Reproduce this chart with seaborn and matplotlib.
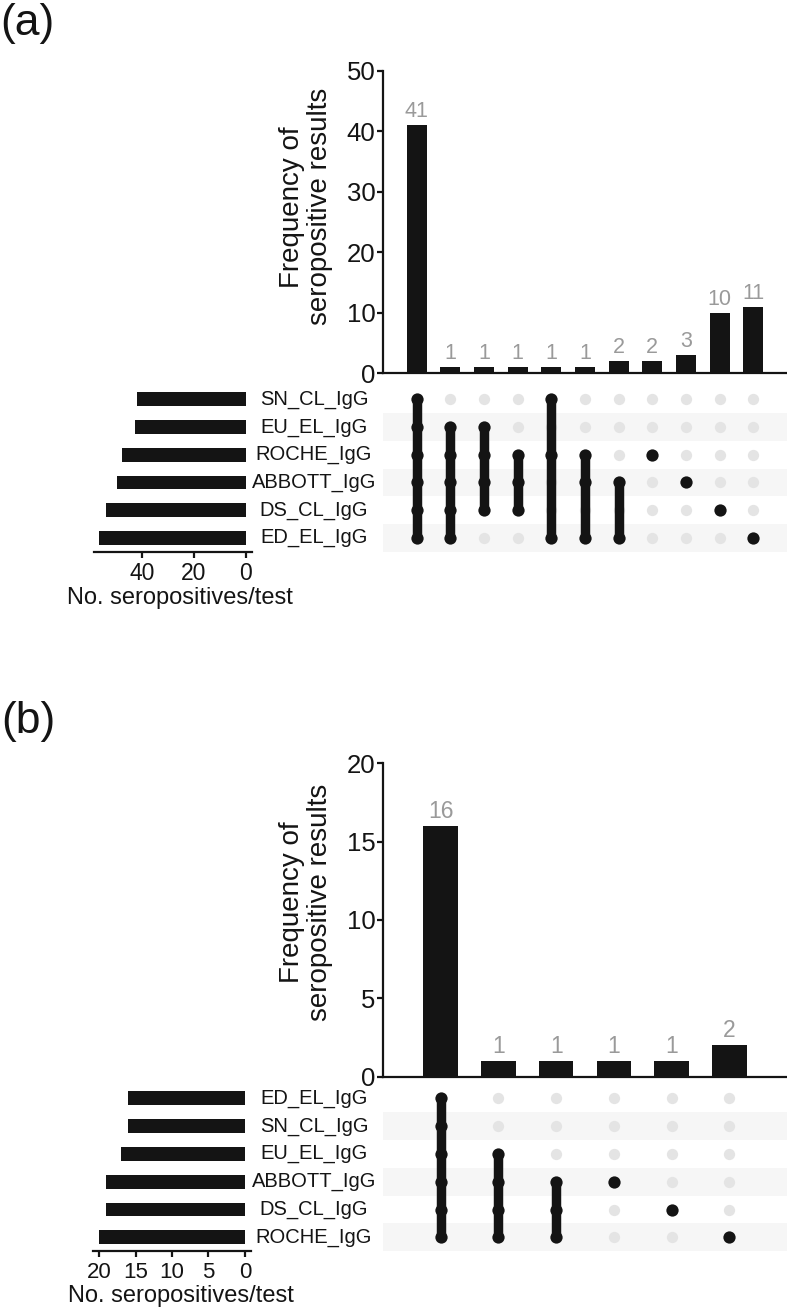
import numpy as np
import pandas as pd
import matplotlib
matplotlib.use("Agg")
import matplotlib.pyplot as plt
import matplotlib.transforms as mtrans
import seaborn as sns

# ---------------- data: panel (a) ----------------
a_sets = ["SN_CL_IgG", "EU_EL_IgG", "ROCHE_IgG", "ABBOTT_IgG", "DS_CL_IgG", "ED_EL_IgG"]
a_set_sizes = [42, 43, 48, 50, 54, 57]
a_freq = [41, 1, 1, 1, 1, 1, 2, 2, 3, 10, 11]
a_members = [
    ["SN_CL_IgG", "EU_EL_IgG", "ROCHE_IgG", "ABBOTT_IgG", "DS_CL_IgG", "ED_EL_IgG"],
    ["EU_EL_IgG", "ROCHE_IgG", "ABBOTT_IgG", "DS_CL_IgG", "ED_EL_IgG"],
    ["EU_EL_IgG", "ROCHE_IgG", "ABBOTT_IgG", "DS_CL_IgG"],
    ["ROCHE_IgG", "ABBOTT_IgG", "DS_CL_IgG"],
    ["SN_CL_IgG", "ROCHE_IgG", "ED_EL_IgG"],
    ["ROCHE_IgG", "ABBOTT_IgG", "ED_EL_IgG"],
    ["ABBOTT_IgG", "ED_EL_IgG"],
    ["ROCHE_IgG"],
    ["ABBOTT_IgG"],
    ["DS_CL_IgG"],
    ["ED_EL_IgG"],
]
a_freq_ticks = [0, 10, 20, 30, 40, 50]
a_size_ticks = [0, 20, 40]

# ---------------- data: panel (b) ----------------
b_sets = ["ED_EL_IgG", "SN_CL_IgG", "EU_EL_IgG", "ABBOTT_IgG", "DS_CL_IgG", "ROCHE_IgG"]
b_set_sizes = [16, 16, 17, 19, 19, 20]
b_freq = [16, 1, 1, 1, 1, 2]
b_members = [
    ["ED_EL_IgG", "SN_CL_IgG", "EU_EL_IgG", "ABBOTT_IgG", "DS_CL_IgG", "ROCHE_IgG"],
    ["EU_EL_IgG", "ABBOTT_IgG", "DS_CL_IgG", "ROCHE_IgG"],
    ["ABBOTT_IgG", "DS_CL_IgG", "ROCHE_IgG"],
    ["ABBOTT_IgG"],
    ["DS_CL_IgG"],
    ["ROCHE_IgG"],
]
b_freq_ticks = [0, 5, 10, 15, 20]
b_size_ticks = [0, 5, 10, 15, 20]

y_title = "Frequency of\nseropositive results"
x_title = "No. seropositives/test"

# ---------------- style ----------------
sns.set_theme(style="ticks")
plt.rcParams["font.family"] = ["Liberation Sans", "DejaVu Sans"]

BLACK = "#141414"
GREY_DOT = "#e4e4e4"
BAND = "#f6f6f6"
LABEL_GREY = "#9a9a9a"

W, H = 787, 1307
fig = plt.figure(figsize=(W / 100, H / 100), dpi=100)


def rect(left, top, right, bottom):
    return [left / W, 1 - bottom / H, (right - left) / W, (bottom - top) / H]


def draw_panel(sets, sizes, freq, members, freq_ticks, size_ticks, lay):
    n = len(freq)
    m = len(sets)

    # ---- intersection bar chart ----
    ax_top = fig.add_axes(rect(383, lay["top_t"], 787, lay["top_b"]))
    dft = pd.DataFrame({"combo": list(range(n)), "freq": freq})
    sns.barplot(data=dft, x="combo", y="freq", ax=ax_top, color=BLACK,
                saturation=1, width=0.6, errorbar=None, linewidth=0)
    ax_top.bar_label(ax_top.containers[0], labels=[str(v) for v in freq],
                     color=LABEL_GREY, fontsize=lay["val_fs"], padding=2)
    ax_top.set_xlim(-1, n)
    ax_top.set_ylim(0, freq_ticks[-1])
    ax_top.set_yticks(freq_ticks)
    ax_top.set_xticks([])
    ax_top.set_xlabel("")
    ax_top.set_ylabel("")
    for s in ["top", "right"]:
        ax_top.spines[s].set_visible(False)
    for s in ["left", "bottom"]:
        ax_top.spines[s].set_linewidth(1.6)
        ax_top.spines[s].set_color(BLACK)
    ax_top.tick_params(axis="y", length=4, width=1.6, color=BLACK,
                       labelsize=18.5, pad=1.5, labelcolor=BLACK)
    ax_top.text(lay["ylab_x"], lay["ylab_y"], y_title, transform=ax_top.transAxes,
                rotation=90, ha="center", va="center", multialignment="center",
                fontsize=20, linespacing=1.1, color=BLACK)

    # ---- matrix ----
    ax_m = fig.add_axes(rect(383, lay["mat_t"], 787, lay["mat_b"]))
    for i in range(m):
        if i % 2 == 1:
            ax_m.axhspan(i - 0.5, i + 0.5, color=BAND, zorder=0, lw=0)
    grid = pd.DataFrame([(j, i) for j in range(n) for i in range(m)], columns=["col", "row"])
    sns.scatterplot(data=grid, x="col", y="row", ax=ax_m, color=GREY_DOT, s=66,
                    linewidth=0, legend=False, zorder=1)
    act = pd.DataFrame([(j, sets.index(name)) for j, mem in enumerate(members) for name in mem],
                       columns=["col", "row"])
    for j, grp in act.groupby("col"):
        if len(grp) > 1:
            ax_m.plot([j, j], [grp["row"].min(), grp["row"].max()], color=BLACK,
                      lw=6.8, solid_capstyle="butt", zorder=2)
    sns.scatterplot(data=act, x="col", y="row", ax=ax_m, color=BLACK, s=78,
                    linewidth=0, legend=False, zorder=3)
    ax_m.set_xlim(-1, n)
    ax_m.set_ylim(m - 0.5, -0.5)
    ax_m.set_axis_off()

    # ---- set sizes ----
    ax_s = fig.add_axes(rect(lay["set_l"], lay["mat_t"], lay["set_r"], lay["mat_b"]))
    dfs = pd.DataFrame({"set": sets, "size": sizes})
    sns.barplot(data=dfs, x="size", y="set", orient="h", ax=ax_s, color=BLACK,
                saturation=1, width=0.5, errorbar=None, linewidth=0)
    ax_s.set_ylim(m - 0.5, -0.5)
    ax_s.set_xlim(*lay["set_xlim"])
    ax_s.set_xticks(size_ticks)
    ax_s.set_yticks([])
    ax_s.set_xlabel("")
    ax_s.set_ylabel("")
    for s in ["top", "right", "left"]:
        ax_s.spines[s].set_visible(False)
    ax_s.spines["bottom"].set_linewidth(1.6)
    ax_s.spines["bottom"].set_color(BLACK)
    ax_s.tick_params(axis="x", length=4.5, width=1.6, color=BLACK,
                     labelsize=lay["size_fs"], pad=3, labelcolor=BLACK)
    ax_s.text(lay["xlab_x"], lay["xlab_y"], x_title, transform=ax_s.transAxes,
              ha="center", va="baseline", fontsize=lay["xlab_fs"], color=BLACK)
    tr = mtrans.blended_transform_factory(fig.transFigure, ax_s.transData)
    for i, name in enumerate(sets):
        ax_s.text(314 / W, i, name, transform=tr, ha="center", va="center",
                  fontsize=14.5, color=BLACK, clip_on=False)


lay_a = dict(top_t=70.7, top_b=373.3, mat_t=385.5, mat_b=551.7,
             set_l=94, set_r=252.3, set_xlim=(58.8, -2.6),
             ylab_x=-0.19, ylab_y=0.55, xlab_x=0.545, xlab_y=-0.315,
             val_fs=15.5, size_fs=16.5, xlab_fs=17)
lay_b = dict(top_t=763.3, top_b=1076.5, mat_t=1084.4, mat_b=1251.2,
             set_l=93.3, set_r=250.7, set_xlim=(20.8, -0.8),
             ylab_x=-0.19, ylab_y=0.557, xlab_x=0.555, xlab_y=-0.305,
             val_fs=16.5, size_fs=16, xlab_fs=17)

draw_panel(a_sets, a_set_sizes, a_freq, a_members, a_freq_ticks, a_size_ticks, lay_a)
draw_panel(b_sets, b_set_sizes, b_freq, b_members, b_freq_ticks, b_size_ticks, lay_b)

fig.text(0.0, 1 - 3 / H, "(a)", ha="left", va="top", fontsize=32, color=BLACK)
fig.text(0.002, 1 - 701 / H, "(b)", ha="left", va="top", fontsize=32, color=BLACK)

fig.savefig("out.png", dpi=100, facecolor="white")
